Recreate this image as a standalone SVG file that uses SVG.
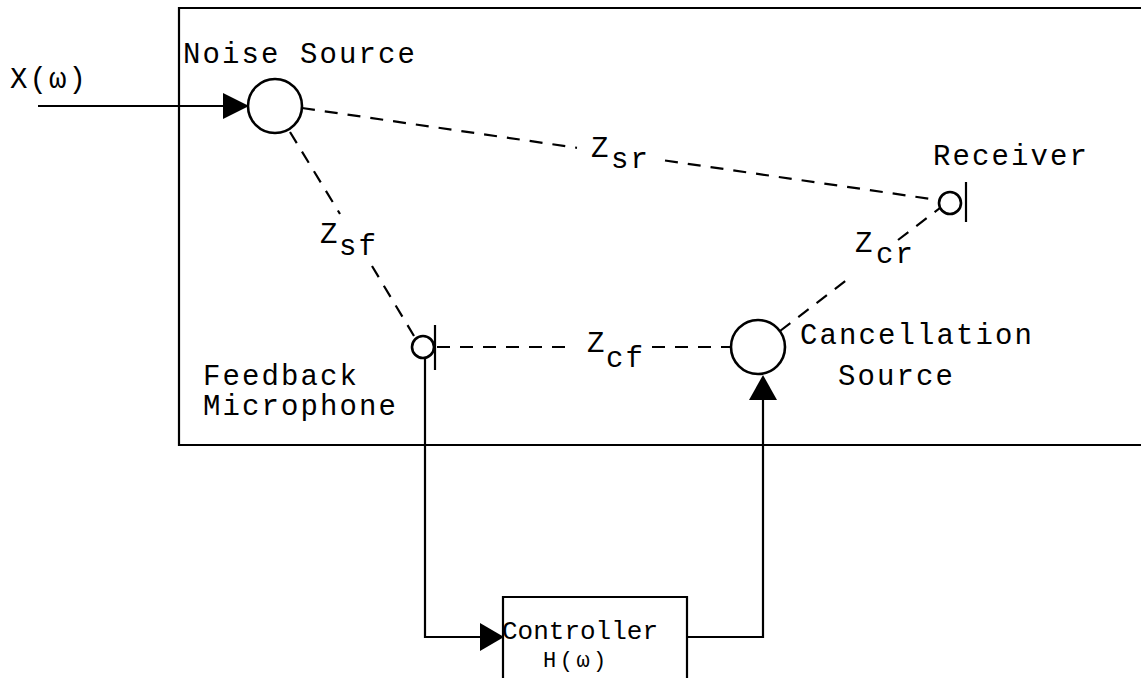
<svg xmlns="http://www.w3.org/2000/svg" width="1141" height="678" viewBox="0 0 1141 678">
<style>
  .t { font-family: "Liberation Mono", "Courier New", monospace; font-size: 29px; letter-spacing: 2.1px; fill: #000; }
  .line { stroke: #000; stroke-width: 2.2; fill: none; }
  .dash { stroke: #000; stroke-width: 2.2; fill: none; stroke-dasharray: 13 10; }
  .node { stroke: #000; stroke-width: 2.6; fill: #fff; }
  .arrow { fill: #000; stroke: none; }
</style>
<rect x="0" y="0" width="1141" height="678" fill="#fff"/>

<g id="enclosure">
  <path class="line" d="M1150 8 H179 V445 H1150"/>
</g>

<g id="connectors">
  <!-- input -->
  <line class="line" x1="38" y1="106" x2="226" y2="106"/>
  <polygon class="arrow" points="223,93 249,106 223,119"/>
  <!-- Zsr path -->
  <line class="dash" x1="302" y1="108" x2="577" y2="147.8"/>
  <line class="dash" x1="665" y1="160.5" x2="938" y2="200"/>
  <!-- Zsf path -->
  <line class="dash" x1="290" y1="132" x2="340" y2="214"/>
  <line class="dash" x1="372" y1="266" x2="414" y2="336"/>
  <!-- Zcf path -->
  <line class="dash" x1="437" y1="347" x2="570" y2="347"/>
  <line class="dash" x1="652" y1="347" x2="731" y2="347"/>
  <!-- Zcr path -->
  <line class="dash" x1="780" y1="331" x2="852" y2="276"/>
  <line class="dash" x1="898" y1="240" x2="940" y2="208"/>
  <!-- feedback mic to controller -->
  <path class="line" d="M425 358 V637 H482"/>
  <polygon class="arrow" points="480,623 504,637 480,651"/>
  <!-- controller to cancellation -->
  <path class="line" d="M687 637 H763 V398"/>
  <polygon class="arrow" points="749,400 763,375 777,400"/>
</g>

<g id="noise-source">
  <circle class="node" cx="275" cy="106" r="27"/>
  <text class="t" x="183" y="63">Noise Source</text>
</g>

<g id="receiver">
  <circle class="node" cx="950" cy="203" r="11"/>
  <line class="line" x1="966" y1="182" x2="966" y2="222" stroke-width="2.6"/>
  <text class="t" x="933" y="165">Receiver</text>
</g>

<g id="feedback-microphone">
  <circle class="node" cx="423" cy="347" r="11"/>
  <line class="line" x1="435" y1="325" x2="435" y2="370" stroke-width="2.6"/>
  <text class="t" x="203" y="385">Feedback</text>
  <text class="t" x="203" y="415">Microphone</text>
</g>

<g id="cancellation-source">
  <circle class="node" cx="758" cy="347" r="27"/>
  <text class="t" x="800" y="344">Cancellation</text>
  <text class="t" x="838" y="385">Source</text>
</g>

<g id="controller">
  <path class="line" d="M503 690 V597 H687 V690"/>
  <text class="t" x="502" y="639" style="font-size:26px;letter-spacing:0px">Controller</text>
  <text class="t" x="543" y="667" style="font-size:22px;letter-spacing:3.5px">H(ω)</text>
</g>

<g id="labels">
  <text class="t" x="10" y="88">X(ω)</text>
  <text class="t" x="591" y="157">Z</text><text class="t" x="611" y="168">sr</text>
  <text class="t" x="320" y="243">Z</text><text class="t" x="339" y="255">sf</text>
  <text class="t" x="587" y="352">Z</text><text class="t" x="606" y="367">cf</text>
  <text class="t" x="855" y="252">Z</text><text class="t" x="876" y="263">cr</text>
</g>
</svg>
